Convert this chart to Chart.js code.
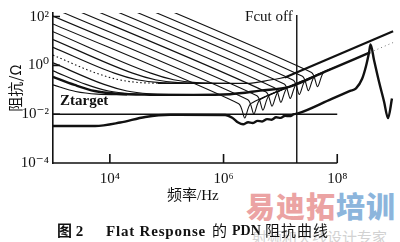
<!DOCTYPE html>
<html>
<head>
<meta charset="utf-8">
<title>Flat Response PDN impedance</title>
<script src="https://cdn.jsdelivr.net/npm/chart.js@4.4.1/dist/chart.umd.min.js"></script>
<style>
  html, body { margin: 0; padding: 0; background: #fff; }
  #wrap { position: relative; width: 400px; height: 242px; overflow: hidden; }
  #chart { position: absolute; left: 0; top: 0; }
  .lbl { position: absolute; white-space: pre; color: #111; line-height: 18px;
         font-family: "Liberation Serif", "Noto Sans CJK SC", serif; }
  .wm { position: absolute; white-space: pre; font-family: "Noto Sans CJK SC", sans-serif; font-weight: 900; }
</style>
</head>
<body>
<div id="wrap">
  <div class="wm" style="left:246px;top:184px;font-size:29px;letter-spacing:1px;"><span style="color:#eba3a3">易迪拓</span><span style="color:#8cb5dc">培训</span></div>
  <div class="wm" style="left:252px;top:226px;font-size:15px;font-weight:400;color:#d2d2d2;">射频和天线设计专家</div>
  <canvas id="chart" width="400" height="242"></canvas>
  <div class="lbl" style="left:167px;top:186px;font-size:15px;">频率/Hz</div>
  <div class="lbl" style="left:57px;top:222px;font-size:15px;font-weight:bold;">图 2</div>
  <div class="lbl" style="left:106px;top:222px;font-size:15px;font-weight:bold;letter-spacing:0.8px;">Flat Response</div>
  <div class="lbl" style="left:212px;top:222px;font-size:15px;">的</div>
  <div class="lbl" style="left:232px;top:222px;font-size:14px;font-weight:bold;">PDN</div>
  <div class="lbl" style="left:265px;top:222px;font-size:15px;letter-spacing:1px;">阻抗曲线</div>
</div>
<script>
// axis ticks
const xTickValues = [1e4, 1e6, 1e8];
const xTickLabels = ['10⁴', '10⁶', '10⁸'];
const yTickValues = [1e-4, 1e-2, 1, 1e2];
const yTickLabels = ['10⁻⁴', '10⁻²', '10⁰', '10²'];

// markers
const fcutFreq = 1.94e7;
const zTarget = 0.01;
const zTargetLine = [[1e3, zTarget], [1e8, zTarget]];
const fcutLine = [[fcutFreq, 1e-4], [fcutFreq, 116]];

// capacitors whose notch falls near Fcut off: [freq Hz, |Z| ohm]
const notchCap1 = [[1e3, 50.1], [1.85e6, 0.027], [2.36e6, 0.0070], [3.01e6, 0.027], [2.0e7, 0.179]];
const notchCap2 = [[1e3, 105], [2.68e6, 0.039], [3.41e6, 0.0102], [4.35e6, 0.039], [2.0e7, 0.179]];
const notchCap3 = [[1e3, 219], [3.87e6, 0.0565], [4.93e6, 0.0147], [6.28e6, 0.0565], [2.0e7, 0.179]];
const notchCap4 = [[1e3, 457], [5.6e6, 0.0817], [7.13e6, 0.0212], [9.08e6, 0.0817], [2.0e7, 0.179]];
const notchCap5 = [[1e3, 944], [8.04e6, 0.117], [1.02e7, 0.0305], [1.3e7, 0.117], [3.16e7, 0.284]];
const notchCap6 = [[1e3, 2.0e3], [1.17e7, 0.171], [1.49e7, 0.0444], [1.9e7, 0.171], [3.98e7, 0.358]];
const notchCap7 = [[1e3, 4.17e3], [1.69e7, 0.247], [2.15e7, 0.0641], [2.74e7, 0.247], [5.62e7, 0.506]];
const notchCap8 = [[1e3, 8.71e3], [2.44e7, 0.356], [3.11e7, 0.0927], [3.96e7, 0.356], [7.94e7, 0.714]];
const notchCap9 = [[1e3, 1.82e4], [3.53e7, 0.515], [4.5e7, 0.134], [5.73e7, 0.515], [1.0e8, 0.9]];

// capacitors that flatten onto an ESR plateau
const flatCapA = [[1e3, 2.63], [5.75e3, 0.48], [1.45e4, 0.257], [3.63e4, 0.195], [1.58e5, 0.182]];
const flatCapB = [[1e3, 5.5], [1.2e4, 0.48], [3.02e4, 0.257], [7.59e4, 0.195], [3.16e5, 0.182]];
const flatCapC = [[1e3, 11.5], [2.51e4, 0.48], [6.31e4, 0.257], [1.58e5, 0.195], [6.31e5, 0.182]];
const flatCapD = [[1e3, 24], [5.25e4, 0.48], [1.32e5, 0.257], [3.31e5, 0.195], [1.26e6, 0.182]];
const flatCapE = [[1e3, 1.26], [7.9e3, 0.166], [2.0e4, 0.089], [5.0e4, 0.068], [1.6e5, 0.062]];
const flatCapF = [[1e3, 0.60], [3.8e3, 0.166], [9.5e3, 0.089], [2.4e4, 0.068], [1.0e5, 0.062]];
const flatCapG = [[1e3, 0.158], [2.5e3, 0.085], [6e3, 0.066], [2e4, 0.062]];

// upper envelope
const envTopFlat = [[7e4, 0.183], [2.5e6, 0.183], [7e6, 0.257], [1.2e7, 0.32]];
const envTopRise = [[1.2e7, 0.32], [9.6e8, 25]];

// middle envelope (thick) and its dotted tail
const envMid = [[1e3, 0.338], [2.4e3, 0.158], [5.4e3, 0.089], [1.3e4, 0.069], [5e4, 0.063],
  [3e5, 0.062], [1.3e6, 0.066], [4.4e6, 0.092], [1.48e7, 0.135], [6.1e7, 0.55], [3.78e8, 3.4]];
const envMidTail = [[3.78e8, 3.4], [9.8e8, 8.8]];

// total PDN impedance (thick bottom curve)
const pdnTotal = [[1e3, 0.0033], [5.5e3, 0.0033], [1.52e4, 0.00455], [4.19e4, 0.0077], [1.15e5, 0.0095],
  [1.07e6, 0.0093], [1.42e6, 0.0072], [1.81e6, 0.00455], [2.21e6, 0.00385], [2.71e6, 0.00468],
  [3.24e6, 0.00434], [3.97e6, 0.00533], [4.76e6, 0.005], [5.83e6, 0.0063], [7.0e6, 0.00595],
  [8.4e6, 0.00744], [1.01e7, 0.00703], [1.21e7, 0.00862], [1.45e7, 0.00832], [1.74e7, 0.0100],
  [1.97e7, 0.0105], [8e7, 0.0425], [1.68e8, 0.0895], [2.14e8, 0.114], [2.74e8, 0.281], [3.21e8, 0.94],
  [3.63e8, 3.43], [3.85e8, 7.2], [4.44e8, 1.63], [5.43e8, 0.213], [6.65e8, 0.0333], [7.82e8, 0.0069],
  [9.18e8, 0.044]];

const ink = '#111';
const serif = '"Liberation Serif", "DejaVu Serif", serif';

function series(points, width, more) {
  return Object.assign({
    data: points.map(p => ({ x: p[0], y: p[1] })),
    borderColor: ink,
    borderWidth: width,
    pointRadius: 0,
    fill: false,
    cubicInterpolationMode: 'monotone'
  }, more || {});
}

const straight = { cubicInterpolationMode: 'default', tension: 0 };
const notchCaps = [notchCap1, notchCap2, notchCap3, notchCap4, notchCap5, notchCap6, notchCap7, notchCap8, notchCap9];

const datasets = [
  ...notchCaps.map(d => series(d, 1.1, { cubicInterpolationMode: 'default', tension: 0.25 })),
  series(flatCapA, 1.1, { borderDash: [1.5, 2.5] }),
  series(flatCapB, 1.2),
  series(flatCapC, 1.2),
  series(flatCapD, 1.2),
  series(flatCapE, 1.2),
  series(flatCapF, 1.2),
  series(flatCapG, 1.2),
  series(envTopFlat, 1.2),
  series(envTopRise, 2.2, straight),
  series(envMid, 2.4),
  series(envMidTail, 1, Object.assign({ borderDash: [1, 3], borderColor: '#777' }, straight)),
  series(pdnTotal, 2.4),
  series(zTargetLine, 1.6, straight),
  series(fcutLine, 1.4, straight)
];

// bottom axis only runs to 10^8, ticks point inwards, plus the two notes
const frame = {
  id: 'frame',
  afterDatasetsDraw(chart) {
    const { ctx, chartArea: a, scales: { x, y } } = chart;
    ctx.save();
    ctx.strokeStyle = ink;
    ctx.lineWidth = 1.6;
    ctx.beginPath();
    ctx.moveTo(a.left, a.bottom);
    ctx.lineTo(x.getPixelForValue(xTickValues[xTickValues.length - 1]), a.bottom);
    xTickValues.forEach(v => {
      const px = x.getPixelForValue(v);
      ctx.moveTo(px, a.bottom);
      ctx.lineTo(px, a.bottom - 9);
    });
    yTickValues.forEach(v => {
      const py = y.getPixelForValue(v);
      ctx.moveTo(a.left, py);
      ctx.lineTo(a.left + 7, py);
    });
    ctx.stroke();

    ctx.fillStyle = ink;
    ctx.font = '15px ' + serif;
    ctx.textAlign = 'right';
    ctx.textBaseline = 'middle';
    ctx.fillText('Fcut off', x.getPixelForValue(fcutFreq) - 4, a.top + 4);
    ctx.font = 'bold 15px ' + serif;
    ctx.textAlign = 'left';
    ctx.textBaseline = 'alphabetic';
    ctx.fillText('Ztarget', a.left + 7, y.getPixelForValue(zTarget) - 9);
    ctx.restore();
  }
};

new Chart(document.getElementById('chart').getContext('2d'), {
  type: 'line',
  data: { datasets: datasets },
  plugins: [frame],
  options: {
    responsive: false,
    animation: false,
    events: [],
    layout: { padding: { top: 10, right: 4, bottom: 0, left: 0 } },
    plugins: { legend: { display: false }, tooltip: { enabled: false } },
    scales: {
      x: {
        type: 'logarithmic',
        min: 1e3,
        max: 1.08e9,
        grid: { display: false, drawTicks: false },
        border: { display: false },
        afterBuildTicks: s => { s.ticks = xTickValues.map(v => ({ value: v })); },
        afterFit: s => { s.height = 79; },
        ticks: {
          padding: 7, maxRotation: 0, autoSkip: false, color: ink,
          font: { family: serif, size: 15 },
          callback: (v, i) => xTickLabels[i]
        }
      },
      y: {
        type: 'logarithmic',
        min: 1e-4,
        max: 140,
        grid: { display: false, drawTicks: false },
        border: { display: true, color: ink, width: 1.6 },
        afterBuildTicks: s => { s.ticks = yTickValues.map(v => ({ value: v })); },
        afterFit: s => { s.width = 53; },
        ticks: {
          padding: 4, autoSkip: false, color: ink,
          font: { family: serif, size: 15 },
          callback: (v, i) => yTickLabels[i]
        },
        title: {
          display: true, text: '阻抗/Ω', color: ink,
          font: { family: '"Noto Sans CJK SC", sans-serif', size: 15 },
          padding: { top: 6, bottom: 0 }
        }
      }
    }
  }
});
</script>
</body>
</html>
